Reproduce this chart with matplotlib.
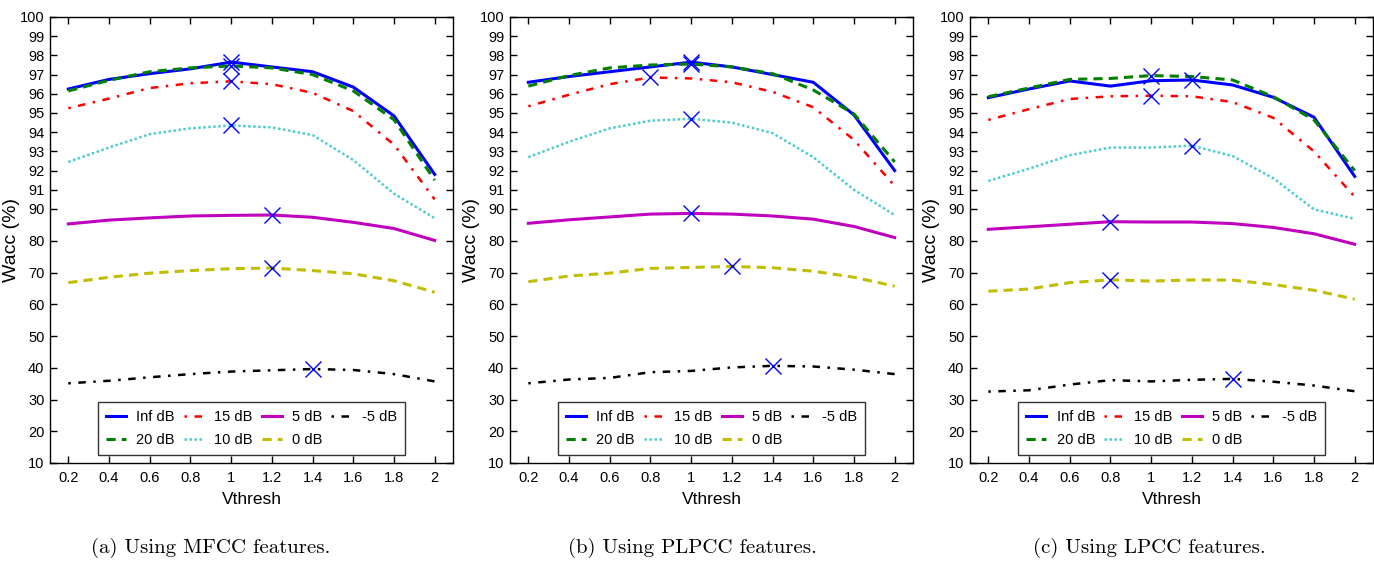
import numpy as np
import matplotlib
matplotlib.use("Agg")
import matplotlib.pyplot as plt

vthresh = [0.2, 0.4, 0.6, 0.8, 1.0, 1.2, 1.4, 1.6, 1.8, 2.0]
snr_labels = ["Inf dB", "20 dB", "15 dB", "10 dB", "5 dB", "0 dB", "-5 dB"]
captions = ["(a) Using MFCC features.", "(b) Using PLPCC features.", "(c) Using LPCC features."]

# MFCC
mfcc_inf = [96.25, 96.75, 97.05, 97.3, 97.65, 97.4, 97.15, 96.35, 94.85, 91.8]
mfcc_20 = [96.15, 96.7, 97.15, 97.35, 97.45, 97.35, 97.0, 96.15, 94.65, 91.5]
mfcc_15 = [95.25, 95.75, 96.3, 96.55, 96.65, 96.5, 96.05, 95.1, 93.35, 90.5]
mfcc_10 = [92.45, 93.2, 93.9, 94.2, 94.35, 94.25, 93.85, 92.55, 90.8, 87.1]
mfcc_5 = [85.3, 86.5, 87.2, 87.8, 88.0, 88.1, 87.4, 85.8, 83.85, 80.1]
mfcc_0 = [66.8, 68.5, 69.8, 70.6, 71.2, 71.4, 70.6, 69.6, 67.4, 63.8]
mfcc_m5 = [35.1, 35.9, 37.0, 38.0, 38.8, 39.2, 39.6, 39.3, 38.0, 35.7]

# PLPCC
plp_inf = [96.6, 96.9, 97.15, 97.4, 97.65, 97.4, 97.0, 96.6, 94.9, 92.0]
plp_20 = [96.4, 96.95, 97.35, 97.5, 97.55, 97.4, 97.05, 96.2, 94.95, 92.45]
plp_15 = [95.35, 95.95, 96.5, 96.85, 96.8, 96.6, 96.1, 95.3, 93.6, 91.2]
plp_10 = [92.7, 93.5, 94.2, 94.6, 94.7, 94.5, 93.95, 92.7, 91.0, 88.1]
plp_5 = [85.5, 86.6, 87.5, 88.4, 88.6, 88.4, 87.8, 86.8, 84.5, 81.0]
plp_0 = [67.1, 68.9, 69.8, 71.3, 71.6, 71.9, 71.5, 70.4, 68.5, 65.7]
plp_m5 = [35.1, 36.3, 36.8, 38.6, 39.0, 40.1, 40.6, 40.4, 39.4, 38.0]

# LPCC
lpc_inf = [95.8, 96.25, 96.67, 96.4, 96.68, 96.72, 96.46, 95.82, 94.78, 91.7]
lpc_20 = [95.85, 96.3, 96.75, 96.8, 96.95, 96.9, 96.72, 95.85, 94.64, 92.0]
lpc_15 = [94.64, 95.2, 95.73, 95.87, 95.9, 95.87, 95.57, 94.75, 93.0, 90.64]
lpc_10 = [91.46, 92.1, 92.8, 93.2, 93.2, 93.3, 92.76, 91.6, 89.9, 86.9]
lpc_5 = [83.6, 84.4, 85.2, 86.0, 85.9, 85.9, 85.4, 84.2, 82.2, 78.9]
lpc_0 = [64.1, 64.8, 66.8, 67.7, 67.3, 67.65, 67.6, 66.2, 64.4, 61.6]
lpc_m5 = [32.5, 32.9, 34.7, 36.1, 35.7, 36.2, 36.5, 35.6, 34.4, 32.6]

panels = [
    [mfcc_inf, mfcc_20, mfcc_15, mfcc_10, mfcc_5, mfcc_0, mfcc_m5],
    [plp_inf, plp_20, plp_15, plp_10, plp_5, plp_0, plp_m5],
    [lpc_inf, lpc_20, lpc_15, lpc_10, lpc_5, lpc_0, lpc_m5],
]

styles = [
    dict(color=(0, 0, 1), ls="-", lw=2.2),
    dict(color=(0, 0.5, 0), ls=(0, (3, 2)), lw=2.2),
    dict(color=(1, 0, 0), ls=(0, (1, 3, 3, 3)), lw=1.8),
    dict(color=(0.3, 0.8, 0.8), ls=(0, (1, 1)), lw=1.8),
    dict(color=(0.75, 0, 0.75), ls="-", lw=2.2),
    dict(color=(0.75, 0.75, 0), ls=(0, (3, 2)), lw=2.2),
    dict(color=(0, 0, 0), ls=(0, (1, 3, 3, 3)), lw=1.8),
]

K = 31.75 / 19.2 / 10.0


def fwd(y):
    y = np.asarray(y, dtype=float)
    return np.where(y <= 90, (y - 90) * K, y - 90)


def inv(z):
    z = np.asarray(z, dtype=float)
    return np.where(z <= 0, z / K + 90, z + 90)


yticks = [10, 20, 30, 40, 50, 60, 70, 80, 90, 91, 92, 93, 94, 95, 96, 97, 98, 99, 100]
sans = ["Liberation Sans", "DejaVu Sans"]

fig = plt.figure(figsize=(13.74, 5.61), dpi=100)
W, H = 1374.0, 561.0
lefts = [50, 510, 970]
cap_x = [211, 692, 1149]
for i, series in enumerate(panels):
    ax = fig.add_axes([lefts[i] / W, 1 - 463 / H, 403 / W, 446 / H])
    ax.set_yscale("function", functions=(fwd, inv))
    for vals, lab, st in zip(series, snr_labels, styles):
        ax.plot(vthresh, vals, label=lab, **st)
    for vals in series:
        k = int(np.argmax(vals))
        ax.plot(vthresh[k], vals[k], marker="x", color=(0, 0, 1), ms=11, mew=1.0, ls="none")
    ax.set_xlim(0.11, 2.09)
    ax.set_ylim(10, 100)
    ax.set_yticks(yticks)
    ax.set_yticklabels([str(t) for t in yticks], family=sans, fontsize=10.5)
    ax.set_xticks(vthresh)
    ax.set_xticklabels(["0.2", "0.4", "0.6", "0.8", "1", "1.2", "1.4", "1.6", "1.8", "2"],
                       family=sans, fontsize=10.5)
    ax.yaxis.set_minor_locator(matplotlib.ticker.NullLocator())
    ax.tick_params(direction="in", top=True, right=True, length=5, width=1, pad=4)
    ax.tick_params(axis="x", pad=6)
    for sp in ax.spines.values():
        sp.set_linewidth(1.0)
    ax.set_ylabel("Wacc (%)", family=sans, fontsize=14)
    ax.yaxis.set_label_coords(-30 / 403, 0.5)
    ax.set_xlabel("Vthresh", family=sans, fontsize=12.5, labelpad=5)
    leg = ax.legend(ncol=4, loc="lower center", bbox_to_anchor=(0.5, 0.018),
                    prop={"family": sans, "size": 10.5}, frameon=True, fancybox=False,
                    edgecolor="black", handlelength=1.4, handletextpad=0.7,
                    columnspacing=0.6, borderpad=0.55, labelspacing=0.6,
                    borderaxespad=0)
    leg.get_frame().set_linewidth(1.0)
    fig.text(cap_x[i] / W, 1 - 548 / H, captions[i], ha="center", va="center",
             family=["cmr10", "DejaVu Serif"], fontsize=15)

fig.savefig("out.png", dpi=100, facecolor="white")
